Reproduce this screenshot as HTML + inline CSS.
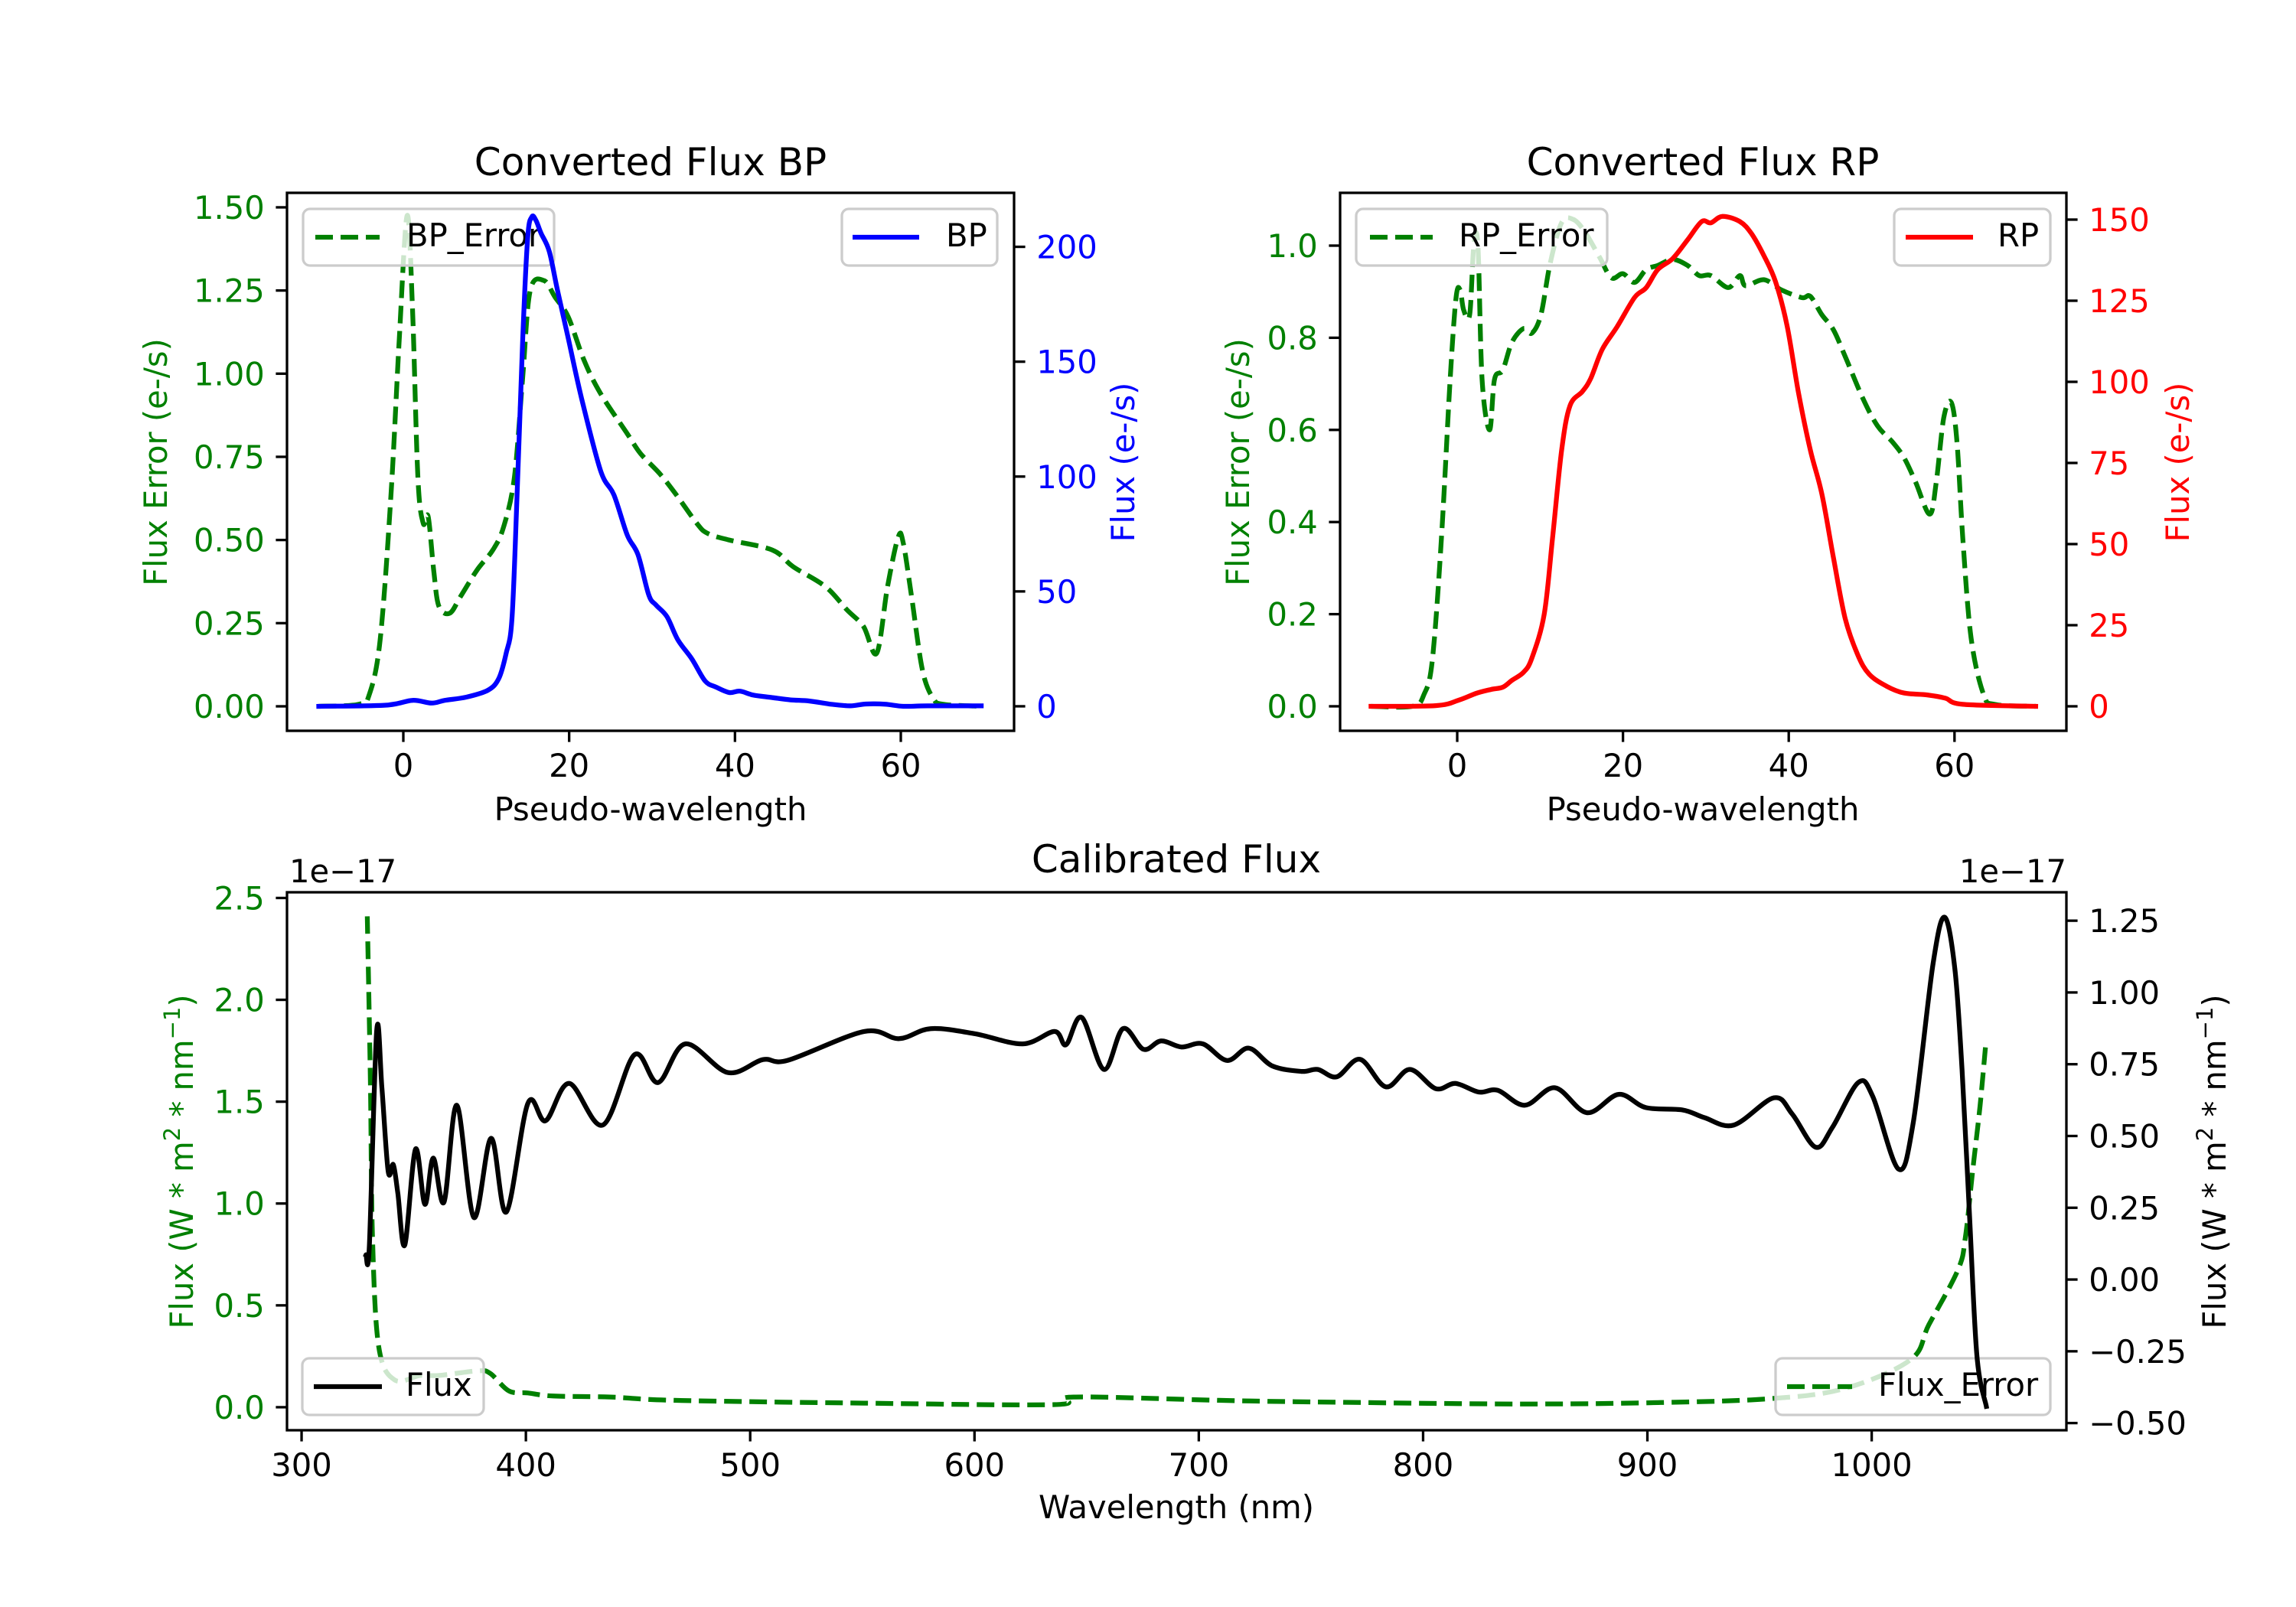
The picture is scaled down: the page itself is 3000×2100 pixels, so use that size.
<!DOCTYPE html>
<html><head><meta charset="utf-8"><style>
html,body{margin:0;padding:0;background:#fff}
svg{display:block}
text{font-family:"DejaVu Sans","Liberation Sans",sans-serif}
</style></head><body>
<svg id="fig" xmlns="http://www.w3.org/2000/svg" width="3000" height="2100" viewBox="0 0 3000 2100">
<rect x="0" y="0" width="3000" height="2100" fill="#fff"/>
</svg>
<script>
// ---------- data: BP panel ----------
const bpX = [-10.2,-2.1,1.1,3.4,5,7.6,10.2,11.5,12.4,13.1,13.7,14.4,15.0,15.5,16,16.6,17.6,18.6,19.9,21.5,23.8,25.4,27,28.3,29.6,30.5,31.8,33.1,34.8,36.4,37.7,39.3,40.6,42.2,44.5,46.7,49,51.6,53.9,55.8,58.1,60.3,63.2,69.7];
const bpFlux = [0,0.5,2.6,1.4,2.6,4,7,12,23,38,90,160,204,213,211.5,206,198,181,160,134,102.5,92,74.6,66,48.5,44,39,29,20.6,11,8.4,6,6.6,4.9,3.8,2.8,2.3,0.9,0.2,1,0.9,0,0.2,0.2];
const bpErrX = [-10.2,-5.4,-4.1,-2.8,-1.5,-0.5,0.45,1.1,1.75,2.4,3.0,3.7,4.3,5.6,6.9,8.9,10.8,12.1,13.4,14.4,15.3,16.96,18.3,19.9,21.8,23.8,27,28.6,30.9,32.8,35.4,36.7,39.3,44.5,47,50.9,53.5,55.5,57.1,58.4,59.7,60.3,61.3,62.6,63.9,65.2,69.7];
const bpErr = [0,0.006,0.036,0.2,0.63,1.1,1.475,1.2,0.69,0.55,0.57,0.40,0.30,0.28,0.33,0.41,0.47,0.54,0.69,0.99,1.25,1.28,1.23,1.17,1.04,0.94,0.82,0.76,0.70,0.64,0.55,0.52,0.50,0.47,0.42,0.36,0.29,0.24,0.16,0.36,0.51,0.49,0.33,0.11,0.024,0.006,0];
// ---------- data: RP panel ----------
const rpX = [-10.4,-2.6,0.2,2.3,4.1,5.5,6.6,8,9.0,10.5,11.5,12.6,13.6,15.1,16.1,17.5,19.3,21.4,22.8,24.2,26,27.8,29.5,30.6,32,34.1,35.5,37,38.4,39.8,41.2,42.6,44,45.4,46.8,48.3,49.7,51.8,53.9,56.7,58.9,61,69.8];
const rpFlux = [0,0.2,1.9,4,5.2,5.9,8,10.5,14.8,28.4,51.9,79,92.6,97,101,110,117,126,129,134.6,138,143.8,149.4,149,151,149.4,145.7,138.9,130.9,117.3,96.3,79,65.4,45.7,27.2,16,9.9,6.2,4.1,3.5,2.5,0.6,0];
const rpErrX = [-10.4,-5.4,-4,-3,-1.9,-0.85,-0.14,0.35,0.78,1.5,2.0,2.5,3.0,3.9,4.5,5.5,6.6,8.0,9.0,10.1,11.2,12.6,14,15.4,17.2,18.6,20,21.4,22.8,24.2,26,27.8,29.2,30.6,32.7,34.1,34.8,37,39.1,41.6,42.6,44,45.4,46.8,48.9,50.7,52.5,53.9,55.3,57,57.8,58.7,59.6,60.3,61,62,63.5,64.9,69.8];
const rpErr = [0,0,0.026,0.10,0.365,0.71,0.887,0.904,0.86,0.85,1.0,1.0,0.71,0.6,0.71,0.73,0.79,0.82,0.81,0.85,0.96,1.05,1.057,1.03,0.974,0.93,0.939,0.92,0.948,0.957,0.97,0.957,0.935,0.935,0.909,0.935,0.913,0.926,0.904,0.887,0.89,0.85,0.817,0.76,0.67,0.609,0.574,0.54,0.487,0.417,0.487,0.626,0.66,0.574,0.365,0.148,0.026,0.004,0];
// ---------- data: calibrated panel ----------
const calX = [328.7,330.2,333.5,335.8,338.6,340.9,342.9,346,350.8,355,358.7,363.5,369.2,376.8,384.5,391.3,400.9,408.8,419.3,434.3,448.4,458.9,471.1,490,505.6,516.9,550.8,566.4,580.5,600.3,621.5,635.7,640.8,647.8,657.7,666.2,675.3,683.2,692.3,701.8,712.6,722.3,732.8,745.8,753,761.5,771.9,783.4,794.1,805.6,814.4,824.8,833.3,845.4,858.8,873.1,887.2,899.3,915.6,925.4,938.5,956.4,964.6,975,982.5,994,1000.5,1011.9,1018.5,1027.3,1032.5,1037.1,1040.3,1043.6,1046.9,1051.1];
const calFlux = [0.086,0.117,0.867,0.668,0.377,0.4,0.301,0.12,0.454,0.262,0.423,0.27,0.607,0.216,0.492,0.235,0.614,0.553,0.683,0.538,0.783,0.686,0.821,0.721,0.766,0.764,0.864,0.839,0.874,0.856,0.821,0.864,0.818,0.913,0.732,0.874,0.802,0.831,0.81,0.821,0.763,0.806,0.744,0.725,0.732,0.706,0.767,0.671,0.732,0.665,0.683,0.653,0.659,0.607,0.668,0.581,0.645,0.599,0.591,0.564,0.538,0.633,0.576,0.461,0.53,0.686,0.637,0.385,0.545,1.097,1.262,1.081,0.729,0.224,-0.266,-0.442];
const calErrX = [329.3,330.7,331.6,334.4,341.5,352.8,361.3,378.2,384,392.4,400.9,412.2,437.7,466,550.8,635.7,644.2,709,743,841,906,955,988,1017.3,1025.5,1038.5,1041.8,1045,1048.3,1050.9];
const calErr = [2.41,1.59,0.835,0.296,0.134,0.156,0.156,0.178,0.167,0.08,0.07,0.055,0.05,0.034,0.02,0.013,0.05,0.034,0.027,0.016,0.023,0.042,0.092,0.233,0.405,0.675,0.837,1.16,1.48,1.79];
// ---------- ticks ----------
const bpXTicks = [0,20,40,60];
const bpLeftTicks = [0,0.25,0.5,0.75,1.0,1.25,1.5];
const bpLeftLabels = ["0.00","0.25","0.50","0.75","1.00","1.25","1.50"];
const bpRightTicks = [0,50,100,150,200];
const rpLeftTicks = [0,0.2,0.4,0.6,0.8,1.0];
const rpLeftLabels = ["0.0","0.2","0.4","0.6","0.8","1.0"];
const rpRightTicks = [0,25,50,75,100,125,150];
const calXTicks = [300,400,500,600,700,800,900,1000];
const calLeftTicks = [0,0.5,1.0,1.5,2.0,2.5];
const calLeftLabels = ["0.0","0.5","1.0","1.5","2.0","2.5"];
const calRightTicks = [-0.5,-0.25,0,0.25,0.5,0.75,1.0,1.25];
const calRightLabels = ["\u22120.50","\u22120.25","0.00","0.25","0.50","0.75","1.00","1.25"];

const NS = "http://www.w3.org/2000/svg";
const fig = document.getElementById('fig');
function mk(tag, attrs, parent){ const e=document.createElementNS(NS,tag); for(const k in attrs) e.setAttribute(k,attrs[k]); (parent||fig).appendChild(e); return e; }
function lin(d0,d1,r0,r1){ return v => r0 + (v-d0)*(r1-r0)/(d1-d0); }
const TICK=14.6, FS=41.7, LW=6.25, DASH="23,10";

function makeAxes(name, box, xd, ld, rd){
  const g = mk('g',{});
  
  
  return {g, box, x: lin(xd[0],xd[1],box.l,box.r), yl: lin(ld[0],ld[1],box.b,box.t), yr: lin(rd[0],rd[1],box.b,box.t)};
}
function smoothPath(P){
  let d = 'M'+P[0][0].toFixed(1)+','+P[0][1].toFixed(1);
  for(let i=0;i<P.length-1;i++){
    const p0=P[Math.max(0,i-1)], p1=P[i], p2=P[i+1], p3=P[Math.min(P.length-1,i+2)];
    const c1x=p1[0]+(p2[0]-p0[0])/6, c1y=p1[1]+(p2[1]-p0[1])/6;
    const c2x=p2[0]-(p3[0]-p1[0])/6, c2y=p2[1]-(p3[1]-p1[1])/6;
    d += ' C'+c1x.toFixed(1)+','+c1y.toFixed(1)+' '+c2x.toFixed(1)+','+c2y.toFixed(1)+' '+p2[0].toFixed(1)+','+p2[1].toFixed(1);
  }
  return d;
}
function line(ax, xs, ys, yscale, color, dashed, name){
  const P = xs.map((v,i)=> [ax.x(v), yscale(ys[i])]);
  const p = mk('path',{d:smoothPath(P), fill:'none', stroke:color, 'stroke-width':LW, 'stroke-linejoin':'round', 'stroke-linecap': dashed?'butt':'square', 'clip-path':'url(#'+ax.clip+')'}, ax.g);
  if(dashed) p.setAttribute('stroke-dasharray', DASH);
  
  
}
function clip(ax,id){
  const defs = mk('defs',{}, ax.g);
  const cp = mk('clipPath',{id:id}, defs);
  mk('rect',{x:ax.box.l,y:ax.box.t,width:ax.box.r-ax.box.l,height:ax.box.b-ax.box.t}, cp);
  ax.clip=id;
}
function frameAndTicks(ax, xt, xl, lt, ll, lc, rt, rl, rc, nm){
  const b=ax.box, g=ax.g;
  const fr = mk('rect',{x:b.l,y:b.t,width:b.r-b.l,height:b.b-b.t,fill:'none',stroke:'#000','stroke-width':3.3}, g);
  
  
  xt.forEach((v,i)=>{
    const x=ax.x(v);
    mk('line',{x1:x,x2:x,y1:b.b,y2:b.b+TICK,stroke:'#000','stroke-width':3.3}, g);
    const t=mk('text',{x:x,y:b.b+TICK+14.6+31,'font-size':FS,'text-anchor':'middle',fill:'#000'}, g);
    t.textContent = xl[i];
    
    
  });
  lt.forEach((v,i)=>{
    const y=ax.yl(v);
    mk('line',{x1:b.l-TICK,x2:b.l,y1:y,y2:y,stroke:'#000','stroke-width':3.3}, g);
    const t=mk('text',{x:b.l-TICK-14.6,y:y+15,'font-size':FS,'text-anchor':'end',fill:lc}, g);
    t.textContent = ll[i];
    
    
  });
  rt.forEach((v,i)=>{
    const y=ax.yr(v);
    mk('line',{x1:b.r,x2:b.r+TICK,y1:y,y2:y,stroke:'#000','stroke-width':3.3}, g);
    const t=mk('text',{x:b.r+TICK+14.6,y:y+15,'font-size':FS,'text-anchor':'start',fill:rc}, g);
    t.textContent = rl[i];
    
    
  });
}
function legend(g, bx, by, bw, bh, hx1, hx2, tx, color, dashed, label, name){
  const lg = mk('g',{}, g);
  
  
  mk('rect',{x:bx,y:by,width:bw,height:bh,rx:9,ry:9,fill:'#fff','fill-opacity':0.8,stroke:'#cccccc','stroke-width':3.3}, lg);
  const cy = by+bh/2;
  const h = mk('line',{x1:hx1,x2:hx2,y1:cy,y2:cy,stroke:color,'stroke-width':LW}, lg);
  if(dashed) h.setAttribute('stroke-dasharray', DASH);
  const t = mk('text',{x:tx,y:cy+12,'font-size':FS,fill:'#000'}, lg);
  t.textContent = label;
}
function text(x,y,str,opts,name){
  const t = mk('text',Object.assign({x:x,y:y,'font-size':FS,fill:'#000'},opts||{}));
  t.textContent = str;
  
  
  return t;
}
function vlabel(cx,cy,str,color,name){
  return text(cx,cy,str,{transform:'rotate(-90 '+cx+' '+cy+')','text-anchor':'middle',fill:color},name);
}
const fmtInt = v => String(v);

// ---- Panel 1: BP ----
const a1 = makeAxes('bp-axes',{l:375,r:1325,t:252,b:955},[-14.03,73.66],[-0.0736,1.5436],[-10.67,223.5]);
clip(a1,'c1');
line(a1,bpErrX,bpErr,a1.yl,'#008000',true,'bp-error-line');
legend(a1.g,396,273,328,74,412,496,531,'#008000',true,'BP_Error','bp-error-legend');
line(a1,bpX,bpFlux,a1.yr,'#0000ff',false,'bp-flux-line');
legend(a1.g,1100,273,203,74,1114,1201,1236,'#0000ff',false,'BP','bp-legend');
frameAndTicks(a1,bpXTicks,bpXTicks.map(fmtInt),bpLeftTicks,bpLeftLabels,'#008000',bpRightTicks,bpRightTicks.map(fmtInt),'#0000ff','bp');
text(850,229,'Converted Flux BP',{'font-size':50,'text-anchor':'middle'},'bp-title');
text(850,1072,'Pseudo-wavelength',{'text-anchor':'middle'},'bp-x-axis-title');
vlabel(218,604,'Flux Error (e-/s)','#008000','bp-left-axis-title');
vlabel(1482,604,'Flux (e-/s)','#0000ff','bp-right-axis-title');

// ---- Panel 2: RP ----
const a2 = makeAxes('rp-axes',{l:1751,r:2700,t:252,b:955},[-14.13,73.5],[-0.0532,1.1146],[-7.55,158.25]);
clip(a2,'c2');
line(a2,rpErrX,rpErr,a2.yl,'#008000',true,'rp-error-line');
legend(a2.g,1772,273,328,74,1790,1872,1906,'#008000',true,'RP_Error','rp-error-legend');
line(a2,rpX,rpFlux,a2.yr,'#ff0000',false,'rp-flux-line');
legend(a2.g,2475,273,204,74,2490,2578,2610,'#ff0000',false,'RP','rp-legend');
frameAndTicks(a2,bpXTicks,bpXTicks.map(fmtInt),rpLeftTicks,rpLeftLabels,'#008000',rpRightTicks,rpRightTicks.map(fmtInt),'#ff0000','rp');
text(2225,229,'Converted Flux RP',{'font-size':50,'text-anchor':'middle'},'rp-title');
text(2225,1072,'Pseudo-wavelength',{'text-anchor':'middle'},'rp-x-axis-title');
vlabel(1632,604,'Flux Error (e-/s)','#008000','rp-left-axis-title');
vlabel(2860,604,'Flux (e-/s)','#ff0000','rp-right-axis-title');

// ---- Panel 3: Calibrated ----
const a3 = makeAxes('calibrated-axes',{l:375,r:2700,t:1166,b:1869},[293.5,1086.8],[-0.113,2.528],[-0.525,1.349]);
clip(a3,'c3');
line(a3,calErrX,calErr,a3.yl,'#008000',true,'calibrated-error-line');
legend(a3.g,2320,1775,359,74,2335,2420,2454,'#008000',true,'Flux_Error','flux-error-legend');
line(a3,calX,calFlux,a3.yr,'#000000',false,'calibrated-flux-line');
legend(a3.g,395,1775,237,74,410,499,530,'#000000',false,'Flux','flux-legend');
frameAndTicks(a3,calXTicks,calXTicks.map(fmtInt),calLeftTicks,calLeftLabels,'#008000',calRightTicks,calRightLabels,'#000000','calibrated');
text(1537,1140,'Calibrated Flux',{'font-size':50,'text-anchor':'middle'},'calibrated-title');
text(1537,1984,'Wavelength (nm)',{'text-anchor':'middle'},'calibrated-x-axis-title');
text(378,1153,'1e\u221217',{},'left-offset-text');
text(2700,1153,'1e\u221217',{'text-anchor':'end'},'right-offset-text');
function fluxLabel(cx,cy,color,name){
  const t = mk('text',{x:cx,y:cy,'font-size':FS,'text-anchor':'middle',fill:color,transform:'rotate(-90 '+cx+' '+cy+')'});
  
  
  t.innerHTML = 'Flux (W * m<tspan baseline-shift="super" font-size="29">2</tspan> * nm<tspan baseline-shift="super" font-size="29">\u22121</tspan>)';
}
fluxLabel(252,1518,'#008000','calibrated-left-axis-title');
fluxLabel(2908,1518,'#000000','calibrated-right-axis-title');
</script>
</body></html>
